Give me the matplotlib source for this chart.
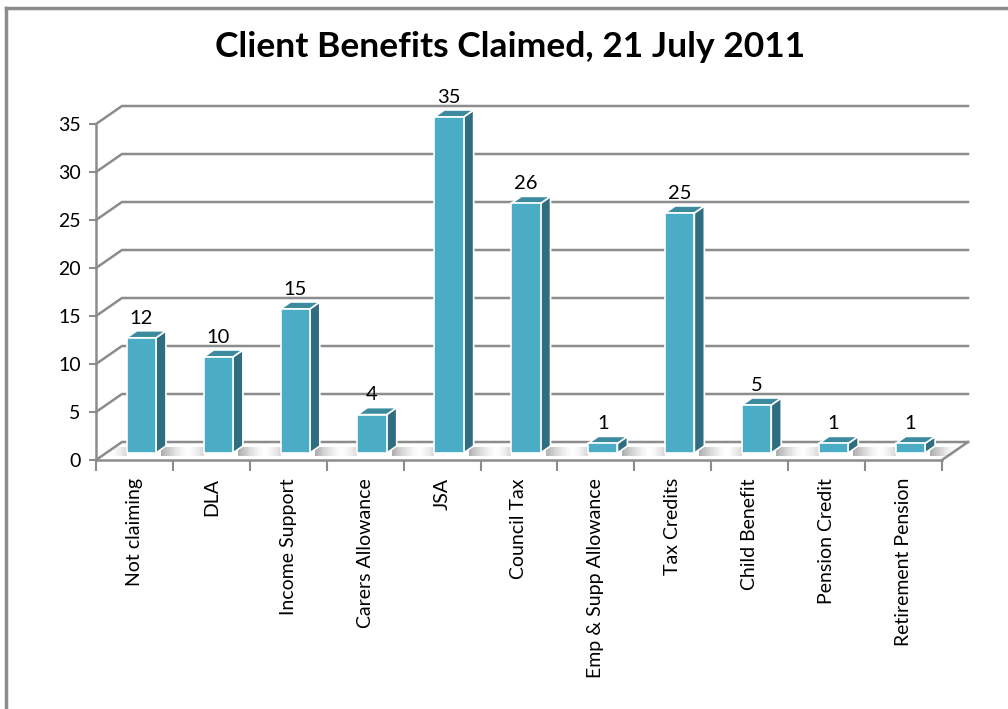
import numpy as np
import matplotlib.pyplot as plt
from matplotlib.patches import Polygon
from matplotlib.lines import Line2D

# Datos: prestaciones reclamadas por clientes
categorias = ['Not claiming', 'DLA', 'Income Support', 'Carers Allowance', 'JSA',
              'Council Tax', 'Emp & Supp Allowance', 'Tax Credits', 'Child Benefit',
              'Pension Credit', 'Retirement Pension']
valores = [12, 10, 15, 4, 35, 26, 1, 25, 5, 1, 1]
marcas_y = [0, 5, 10, 15, 20, 25, 30, 35]

plt.rcParams['font.family'] = ['Lato', 'DejaVu Sans']

# Perspectiva (en unidades de datos): fondo de la pared y profundidad de las barras
PARED_DX, PARED_DY = 0.338, 1.875
BARRA_X0, BARRA_W = 0.40, 0.38
BARRA_DY0 = 0.73
PROF_DX, PROF_DY = 0.13, 0.73

GRIS = '#8c8c8c'
C_FRENTE = '#4bacc6'
C_LADO = '#2f6e80'
C_TAPA = '#3b8a9e'

fig = plt.figure(figsize=(10.08, 7.09), dpi=100)
fig.patch.set_facecolor('white')
ax = fig.add_axes([96 / 1008, 249 / 709, 846 / 1008, 336 / 709])
n = len(categorias)
ax.set_xlim(0, n)
ax.set_ylim(0, 35)

# marco exterior
fig.add_artist(Line2D([6 / 1008, 6 / 1008], [0, 1 - 8 / 709], color=GRIS, lw=2.5))
fig.add_artist(Line2D([6 / 1008, 1], [1 - 8 / 709, 1 - 8 / 709], color=GRIS, lw=2.5))

# pared lateral y lineas de cuadricula del fondo
for v in marcas_y:
    ax.plot([0, PARED_DX, n + PARED_DX], [v, v + PARED_DY, v + PARED_DY],
            color=GRIS, lw=1.8, clip_on=False, zorder=1)
# borde derecho del suelo
ax.plot([n, n + PARED_DX], [0, PARED_DY], color=GRIS, lw=1.8, clip_on=False, zorder=1)

# sombras sobre el suelo (degradado a cada lado de la base)
y_sa, y_sb = BARRA_DY0 * 0.5, BARRA_DY0 + PROF_DY * 0.8
paso = 0.025
for i, v in enumerate(valores):
    xs = i + BARRA_X0 + BARRA_W + PROF_DX * 0.5
    for k in range(14):
        a = 0.55 * (1 - k / 14) ** 1.5
        x0 = xs + k * paso
        ax.add_patch(Polygon([(x0, y_sa), (x0 + paso, y_sa), (x0 + paso, y_sb), (x0, y_sb)],
                             closed=True, facecolor='#6e6e6e', edgecolor='none',
                             alpha=a, clip_on=False, zorder=2))
    xl = i + BARRA_X0
    for k in range(8):
        a = 0.25 * (1 - k / 8) ** 1.5
        x1 = xl - k * paso
        ax.add_patch(Polygon([(x1 - paso, y_sa), (x1, y_sa), (x1, y_sb), (x1 - paso, y_sb)],
                             closed=True, facecolor='#6e6e6e', edgecolor='none',
                             alpha=a, clip_on=False, zorder=2))

# barras 3D
for i, v in enumerate(valores):
    x0 = i + BARRA_X0
    x1 = x0 + BARRA_W
    y0 = BARRA_DY0
    y1 = BARRA_DY0 + v
    frente = [(x0, y0), (x1, y0), (x1, y1), (x0, y1)]
    lado = [(x1, y0), (x1 + PROF_DX, y0 + PROF_DY), (x1 + PROF_DX, y1 + PROF_DY), (x1, y1)]
    tapa = [(x0, y1), (x1, y1), (x1 + PROF_DX, y1 + PROF_DY), (x0 + PROF_DX, y1 + PROF_DY)]
    for cara, color in ((lado, C_LADO), (tapa, C_TAPA), (frente, C_FRENTE)):
        ax.add_patch(Polygon(cara, closed=True, facecolor=color, edgecolor='white',
                             lw=1.2, joinstyle='round', clip_on=False, zorder=3))
    ax.text((x0 + x1) / 2, y1 + PROF_DY + 0.75, str(v), ha='center', va='baseline',
            fontsize=14.5, color='black', zorder=4)

# ejes delanteros
for lado in ('top', 'right'):
    ax.spines[lado].set_visible(False)
for lado in ('left', 'bottom'):
    ax.spines[lado].set_color(GRIS)
    ax.spines[lado].set_linewidth(1.8)
ax.set_facecolor('none')
ax.set_yticks(marcas_y)
ax.set_yticklabels([str(m) for m in marcas_y], fontsize=14)
ax.tick_params(axis='y', length=5, width=1.5, color=GRIS, pad=6)
ax.set_xticks(np.arange(n + 1))
ax.set_xticklabels([])
ax.tick_params(axis='x', length=8, width=1.5, color=GRIS)
ax.set_xticks(np.arange(n) + 0.5, minor=True)
ax.set_xticklabels(categorias, minor=True, rotation=90, fontsize=14, va='top', ha='center')
ax.tick_params(axis='x', which='minor', length=0, pad=13)

fig.text(0.506, 1 - 47 / 709, 'Client Benefits Claimed, 21 July 2011', ha='center',
         va='center', fontsize=25.5, fontweight='bold')

fig.savefig('out.png', dpi=100)
